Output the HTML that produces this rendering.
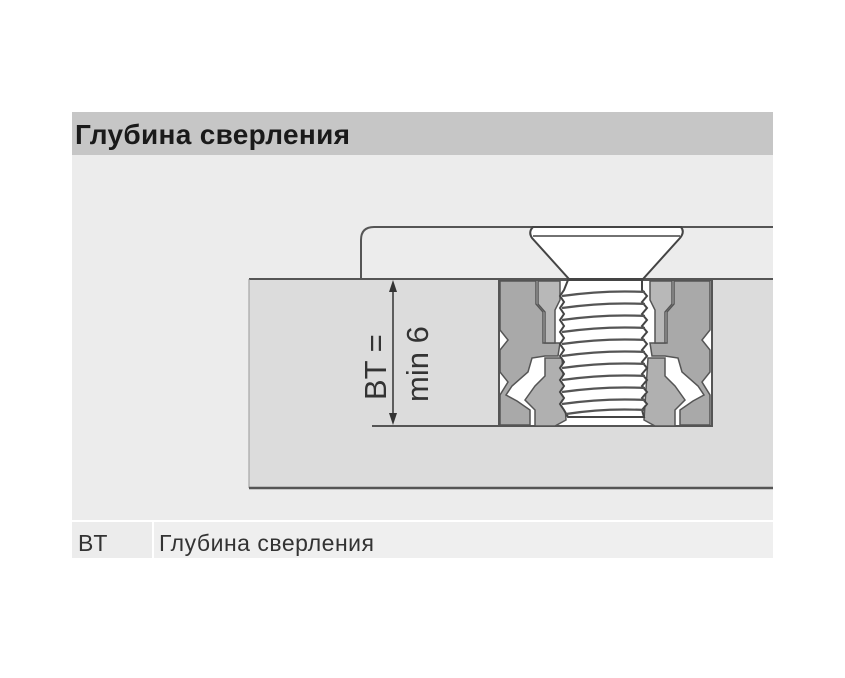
<!DOCTYPE html>
<html><head><meta charset="utf-8"><style>
html,body{margin:0;padding:0;background:#fff;}
body{width:845px;height:678px;position:relative;overflow:hidden;font-family:"Liberation Sans","Noto Sans CJK SC",sans-serif;}
</style></head><body>
<svg width="845" height="678" viewBox="0 0 845 678" xmlns="http://www.w3.org/2000/svg" style="position:absolute;left:0;top:0">
<rect x="72" y="112" width="701" height="43" fill="#c6c6c6"/>
<text x="75" y="144" font-family="Liberation Sans, sans-serif" font-weight="bold" font-size="28" fill="#1a1a1a" textLength="275">Глубина сверления</text>
<rect x="72" y="155" width="701" height="365" fill="#ececec"/>
<rect x="72" y="522" width="80" height="36" fill="#ececec"/>
<rect x="154" y="522" width="619" height="36" fill="#efefef"/>
<text x="78" y="551" font-size="23" fill="#333">BT</text>
<text x="159" y="551" font-size="23" fill="#333" textLength="215">Глубина сверления</text>
<!-- board -->
<rect x="249" y="279" width="524" height="209" fill="#dcdcdc"/>
<line x1="249" y1="279" x2="773" y2="279" stroke="#555" stroke-width="2"/>
<line x1="249" y1="279" x2="249" y2="488" stroke="#999" stroke-width="1"/>
<line x1="249" y1="488" x2="773" y2="488" stroke="#555" stroke-width="2.5"/>
<!-- plate -->
<path d="M361 279 V240 Q361 227 374 227 H773" fill="none" stroke="#555" stroke-width="2"/>
<!-- hole -->
<rect x="499" y="280" width="213" height="146" fill="#fff" stroke="#555" stroke-width="2"/>
<line x1="372" y1="426" x2="499" y2="426" stroke="#555" stroke-width="2"/>
<!-- dowel halves -->
<g fill="#a9a9a9" stroke="#555" stroke-width="1.5">
<path d="M500 281 H536 V304 L543 312 V343 H560 L558 356 H545 L532 358 L528 372 L512 386 L506 395 L517 401 L530 410 V425 H500 V395 L508 382 L500 372 V350 L508 340 L500 330 Z"/>
<path d="M538 281 H560 V300 L555 310 V343 H545 V312 L538 304 Z" fill="#b8b8b8"/>
<path d="M545 358 H562 L566 420 L555 426 H535 V410 L525 400 L535 386 L545 376 Z" fill="#b0b0b0"/>
</g>
<g transform="translate(1210,0) scale(-1,1)" fill="#a9a9a9" stroke="#555" stroke-width="1.5">
<path d="M500 281 H536 V304 L543 312 V343 H560 L558 356 H545 L532 358 L528 372 L512 386 L506 395 L517 401 L530 410 V425 H500 V395 L508 382 L500 372 V350 L508 340 L500 330 Z"/>
<path d="M538 281 H560 V300 L555 310 V343 H545 V312 L538 304 Z" fill="#b8b8b8"/>
<path d="M545 358 H562 L566 420 L555 426 H535 V410 L525 400 L535 386 L545 376 Z" fill="#b0b0b0"/>
</g>
<!-- screw -->
<path d="M533 227 H681 Q685 232 680 238 L643 279 H569 L532 238 Q528 232 533 227 Z" fill="#fff" stroke="#444" stroke-width="2"/>
<line x1="533" y1="236" x2="680" y2="236" stroke="#444" stroke-width="1.5"/>
<path d="M568 280 H642 V290 L647 296 L642 302 L647 308 L642 314 L647 320 L642 326 L647 332 L642 338 L647 344 L642 350 L647 356 L642 362 L647 368 L642 374 L647 380 L642 386 L647 392 L642 398 L647 404 L642 410 L644 417 H568 L564 410 L560 404 L564 398 L560 392 L564 386 L560 380 L564 374 L560 368 L564 362 L560 356 L564 350 L560 344 L564 338 L560 332 L564 326 L560 320 L564 314 L560 308 L564 302 L560 296 L564 290 Z" fill="#fff" stroke="#444" stroke-width="2"/>
<g stroke="#555" stroke-width="2.2" fill="none">
<path d="M562 296 Q605 290 645 292"/><path d="M562 308 Q605 302 645 304"/><path d="M562 320 Q605 314 645 316"/>
<path d="M562 332 Q605 326 645 328"/><path d="M562 344 Q605 338 645 340"/><path d="M562 356 Q605 350 645 352"/>
<path d="M562 368 Q605 362 645 364"/><path d="M562 380 Q605 374 645 376"/><path d="M562 392 Q605 386 645 388"/>
<path d="M562 404 Q605 398 645 400"/><path d="M566 414 Q605 408 644 410"/>
</g>
<!-- dimension -->
<line x1="393" y1="283" x2="393" y2="422" stroke="#333" stroke-width="1.5"/>
<path d="M393 280 L389 292 L397 292 Z" fill="#333"/>
<path d="M393 425 L389 413 L397 413 Z" fill="#333"/>
<text transform="translate(386,400) rotate(-90)" font-size="31" fill="#333">BT =</text>
<text transform="translate(428,402) rotate(-90)" font-size="31" fill="#333">min 6</text>
</svg>
</body></html>
